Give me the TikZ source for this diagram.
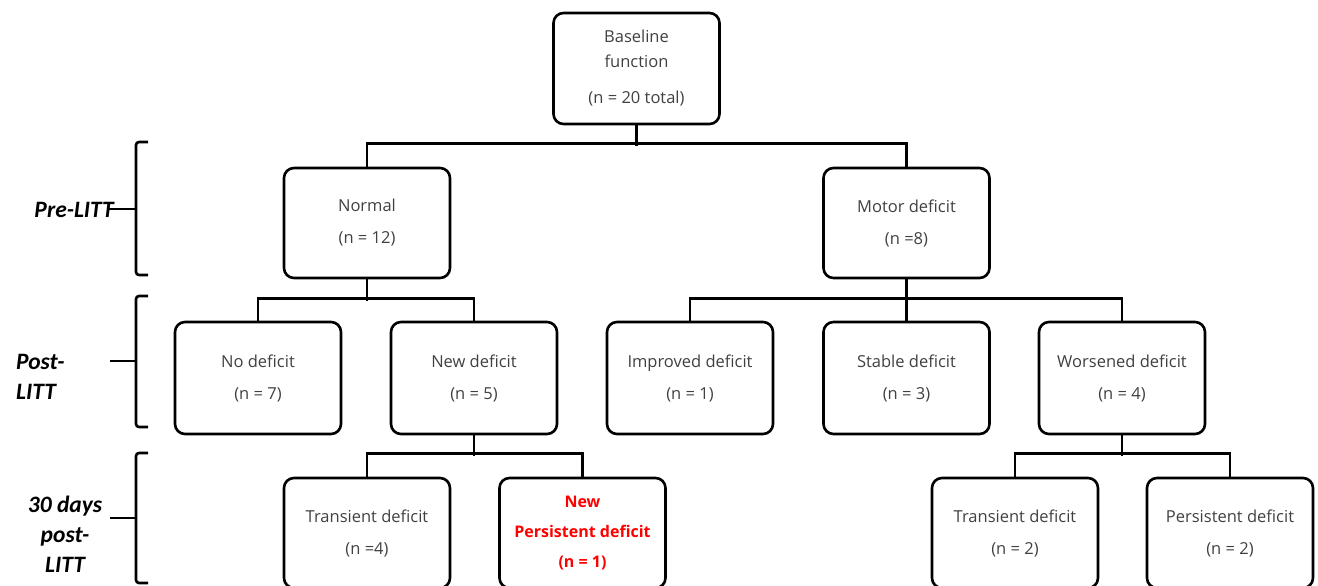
\documentclass[tikz,border=0pt]{standalone}
\usepackage{fontspec}
\setmainfont{Open Sans}
\newfontfamily\labfont{Carlito}
\begin{document}
\begin{tikzpicture}[x=1pt,y=-1pt,
  box/.style={draw=black,line width=2.6pt,rounded corners=10pt,minimum width=166pt,minimum height=110pt,
    align=center,inner sep=0pt,text=txtgray,font=\fontsize{16.5}{32}\selectfont},
  conn/.style={draw=black,line width=2.6pt},
  brk/.style={draw=black,line width=2.6pt,rounded corners=3pt},
  lab/.style={font=\labfont\bfseries\itshape\fontsize{23.5}{30}\selectfont,text=black,inner sep=0pt}]
\definecolor{txtgray}{HTML}{404040}
\definecolor{hired}{HTML}{FF0000}
\clip (0,0) rectangle (1318,586);
\useasboundingbox (0,0) rectangle (1318,586);
% boxes
\node[box,minimum height=111pt] (base) at (636.5,68.5) {Baseline\\[-7pt]function\\[4pt](n = 20 total)};
\node[box] (normal) at (367,223) {Normal\\(n = 12)};
\node[box] (motor) at (906.5,223) {Motor deficit\\(n =8)};
\node[box,minimum height=112pt] (nodef) at (258,378) {No deficit\\(n = 7)};
\node[box,minimum height=112pt] (newdef) at (474,378) {New deficit\\(n = 5)};
\node[box,minimum height=112pt] (impr) at (690,378) {Improved deficit\\(n = 1)};
\node[box,minimum height=112pt] (stable) at (906.5,378) {Stable deficit\\(n = 3)};
\node[box,minimum height=112pt] (worse) at (1122,378) {Worsened deficit\\(n = 4)};
\node[box] (trans1) at (367,533) {Transient deficit\\(n =4)};
\node[box,text=hired,font=\bfseries\fontsize{16}{30}\selectfont] (newpers) at (582.5,533) {New\\Persistent deficit\\(n = 1)};
\node[box] (trans2) at (1015,533) {Transient deficit\\(n = 2)};
\node[box] (pers) at (1230,533) {Persistent deficit\\(n = 2)};
% connectors
\draw[conn] (base.south) -- ++(0,21);
\draw[conn] (normal.north) -- ++(0,-23) -| (motor.north);
\draw[conn] (normal.south) -- ++(0,22);
\draw[conn] (nodef.north) -- ++(0,-22) -| (newdef.north);
\draw[conn] (motor.south) -- (stable.north);
\draw[conn] (impr.north) -- ++(0,-22) -| (worse.north);
\draw[conn] (newdef.south) -- ++(0,21);
\draw[conn] (trans1.north) -- ++(0,-23) -| (newpers.north);
\draw[conn] (worse.south) -- ++(0,21);
\draw[conn] (trans2.north) -- ++(0,-23) -| (pers.north);
% brackets
\draw[brk] (148,142) -- (136,142) -- (136,275) -- (148,275);
\draw[brk] (148,296) -- (136,296) -- (136,427) -- (148,427);
\draw[brk] (148,453) -- (136,453) -- (136,583) -- (148,583);
\coordinate (b1) at (136,209);
\coordinate (b2) at (136,361);
\coordinate (b3) at (136,518);
\node[lab,anchor=east] (l1) at (114,210) {Pre-LITT};
\node[lab,anchor=west,align=left] (l2) at (16,377) {Post-\\LITT};
\node[lab,align=center] (l3) at (65,534) {30 days\\post-\\LITT};
\draw[conn] (l1.east) ++(-5,-1) -- (b1);
\draw[conn] (b2) -- ++(-26,0) coordinate (t2);
\draw[conn] (b3) -- ++(-26,0) coordinate (t3);
\end{tikzpicture}
\end{document}
